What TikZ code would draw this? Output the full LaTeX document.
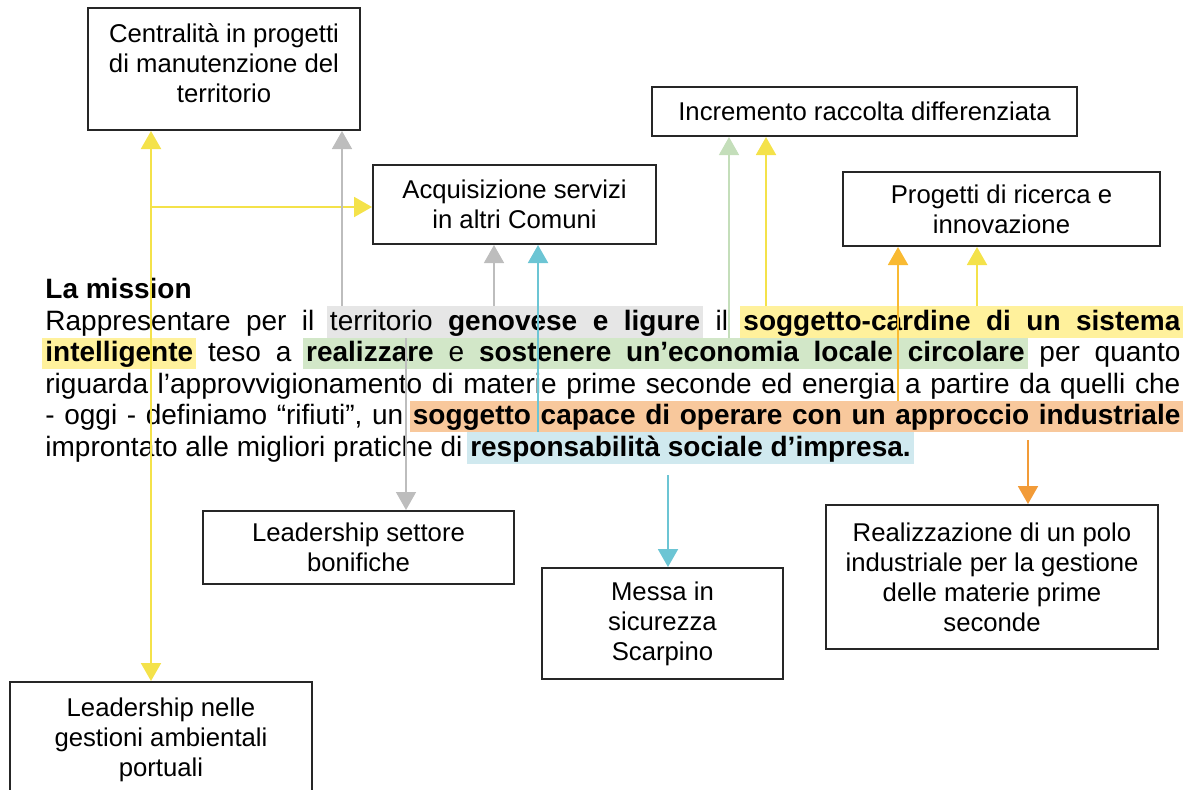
\documentclass[tikz,border=0pt]{standalone}
\usepackage{fontspec}
\setmainfont{Liberation Sans}
\usepackage{xcolor}
\usetikzlibrary{arrows.meta}
\definecolor{hlgray}{HTML}{E6E6E6}
\definecolor{hlyel}{HTML}{FFF19C}
\definecolor{hlgreen}{HTML}{D2E7C8}
\definecolor{hlorange}{HTML}{F8C89C}
\definecolor{hlblue}{HTML}{D0E9EF}
\definecolor{cyel}{HTML}{F4E24A}
\definecolor{cgry}{HTML}{BDBDBD}
\definecolor{cteal}{HTML}{6CC5D4}
\definecolor{cgrn}{HTML}{C4DEBA}
\definecolor{cgold}{HTML}{F9BA32}
\definecolor{corg}{HTML}{F29B38}
\newcommand{\goalfont}{\fontsize{12.85}{15}\selectfont}
\newcommand{\misfont}{\fontsize{14}{15.75}\selectfont}
% highlighted runs: words on colour, spaces as coloured stretchable glue
\newlength\hlup \setlength\hlup{12pt}
\newlength\hldn \setlength\hldn{3.75pt}
\newcommand{\wsp}{\hskip 0.278em plus 1fil\relax}
\newcommand{\hlsp}[1]{{\color{#1}\leaders\vrule height\hlup depth\hldn\hskip 0.278em plus 1fil}}
\newcommand{\hlword}[2]{{\fboxsep=0pt\colorbox{#1}{\vrule width0pt height\hlup depth\hldn\relax#2}}}
\newcommand{\hlL}[1]{\llap{\color{#1}\vrule width 1.5pt height\hlup depth\hldn}}
\newcommand{\hlR}[1]{\rlap{\color{#1}\vrule width 1.5pt height\hlup depth\hldn}}
\makeatletter
\newcommand{\hlrun}[3]{\def\hl@c{#1}\def\hl@f{#2}\hlL{#1}\hl@loop#3 \@nil\hlR{#1}}
\def\hl@loop#1 #2\@nil{\hlword{\hl@c}{\hl@f#1}\ifx\relax#2\relax\else\hlsp{\hl@c}\hl@loop#2\@nil\fi}
\newcommand{\prun}[1]{\p@loop#1 \@nil}
\def\p@loop#1 #2\@nil{#1\ifx\relax#2\relax\else\wsp\p@loop#2\@nil\fi}
\makeatother

\begin{document}
\begin{tikzpicture}[x=0.5pt, y=-0.5pt,
    goal/.style={draw=black!85, line width=1pt, align=center, inner sep=0pt, font=\goalfont},
    misline/.style={anchor=base west, inner sep=0pt, font=\misfont},
    link/.style={-{Triangle[length=9pt, width=10pt]}, line width=1pt},
    lnyel/.style={link, cyel},
    lngry/.style={link, cgry, line width=0.75pt},
    lnteal/.style={link, cteal},
    lngrn/.style={link, cgrn, line width=0.75pt},
    lngold/.style={link, cgold},
    lnorg/.style={link, corg},
]
  \useasboundingbox (0,0) rectangle (1188,789);

  % target boxes
  \node[goal, minimum width=136pt, minimum height=61pt] (centr) at (224,69)
      {Centralità in progetti\\di manutenzione del\\territorio\\[-9pt]\mbox{}};
  \node[goal, minimum width=141.5pt, minimum height=39.5pt] (acq) at (514.5,204.5)
      {Acquisizione servizi\\in altri Comuni};
  \node[goal, minimum width=212.5pt, minimum height=24.5pt] (incr) at (864.5,111.5)
      {Incremento raccolta differenziata};
  \node[goal, minimum width=158.5pt, minimum height=37pt] (prog) at (1001.5,209)
      {Progetti di ricerca e\\innovazione};
  \node[goal, minimum width=155.5pt, minimum height=36.5pt] (bonif) at (358.5,547.5)
      {Leadership settore\\bonifiche};
  \node[goal, minimum width=120.5pt, minimum height=55.5pt] (messa) at (662.5,623.5)
      {Messa in\\sicurezza\\Scarpino};
  \node[goal, minimum width=166pt, minimum height=72pt] (polo) at (992,577)
      {Realizzazione di un polo\\industriale per la gestione\\delle materie prime\\seconde};
  \node[goal, minimum width=151pt, minimum height=61pt] (porto) at (161,743)
      {Leadership nelle\\gestioni ambientali\\portuali\\[-9pt]\mbox{}};

  % the mission text
  \node[misline, font=\misfont\bfseries] (mtitle) at (45,298.4) {La mission};
  \node[misline] (mline1) at (45,330) {\hbox to 567.5pt{%
      \prun{Rappresentare per il}\wsp\hlrun{hlgray}{}{territorio}\hlsp{hlgray}%
      \hlrun{hlgray}{\bfseries}{genovese e ligure}\wsp\prun{il}\wsp%
      \hlrun{hlyel}{\bfseries}{soggetto-cardine di un sistema}}};
  \node[misline] (mline2) at (45,361.6) {\hbox to 567.5pt{%
      \hlrun{hlyel}{\bfseries}{intelligente}\wsp\prun{teso a}\wsp%
      \hlrun{hlgreen}{\bfseries}{realizzare}\hlsp{hlgreen}\hlrun{hlgreen}{}{e}\hlsp{hlgreen}%
      \hlrun{hlgreen}{\bfseries}{sostenere un’economia locale circolare}\wsp\prun{per quanto}}};
  \node[misline] (mline3) at (45,393.2) {\hbox to 567.5pt{%
      \prun{riguarda l’approvvigionamento di materie prime seconde ed energia a partire da quelli che}}};
  \node[misline] (mline4) at (45,424.8) {\hbox to 567.5pt{%
      \prun{- oggi - definiamo “rifiuti”, un}\wsp%
      \hlrun{hlorange}{\bfseries}{soggetto capace di operare con un approccio industriale}}};
  \node[misline] (mline5) at (45,456.4) {\hbox{%
      \prun{improntato alle migliori pratiche di}\wsp%
      \hlrun{hlblue}{\bfseries}{responsabilità sociale d’impresa.}}};

  % arrow ends on the highlights
  \coordinate (intel) at (151,353);
  \coordinate (fork)  at (151,207);
  \coordinate (terrA) at (342,306);
  \coordinate (terrB) at (494,306);
  \coordinate (terrC) at (406,338);
  \coordinate (respA) at (538,432);
  \coordinate (respB) at (668,475);
  \coordinate (econ)  at (729,338);
  \coordinate (sogA)  at (766,306);
  \coordinate (sogB)  at (977,306);
  \coordinate (indA)  at (898,401);
  \coordinate (indB)  at (1028,440);

  \draw[lnyel] (intel) -- (intel |- centr.south);
  \draw[lnyel] (intel) -- (intel |- porto.north);
  \draw[lnyel] (fork) -- (fork -| acq.west);
  \draw[lngry] (terrA) -- (terrA |- centr.south);
  \draw[lngry] (terrB) -- (terrB |- acq.south);
  \draw[lngry] (terrC) -- (terrC |- bonif.north);
  \draw[lnteal] (respA) -- (respA |- acq.south);
  \draw[lnteal] (respB) -- (respB |- messa.north);
  \draw[lngrn] (econ) -- (econ |- incr.south);
  \draw[lnyel] (sogA) -- (sogA |- incr.south);
  \draw[lngold] (indA) -- (indA |- prog.south);
  \draw[lnyel] (sogB) -- (sogB |- prog.south);
  \draw[lnorg] (indB) -- (indB |- polo.north);
\end{tikzpicture}
\end{document}
